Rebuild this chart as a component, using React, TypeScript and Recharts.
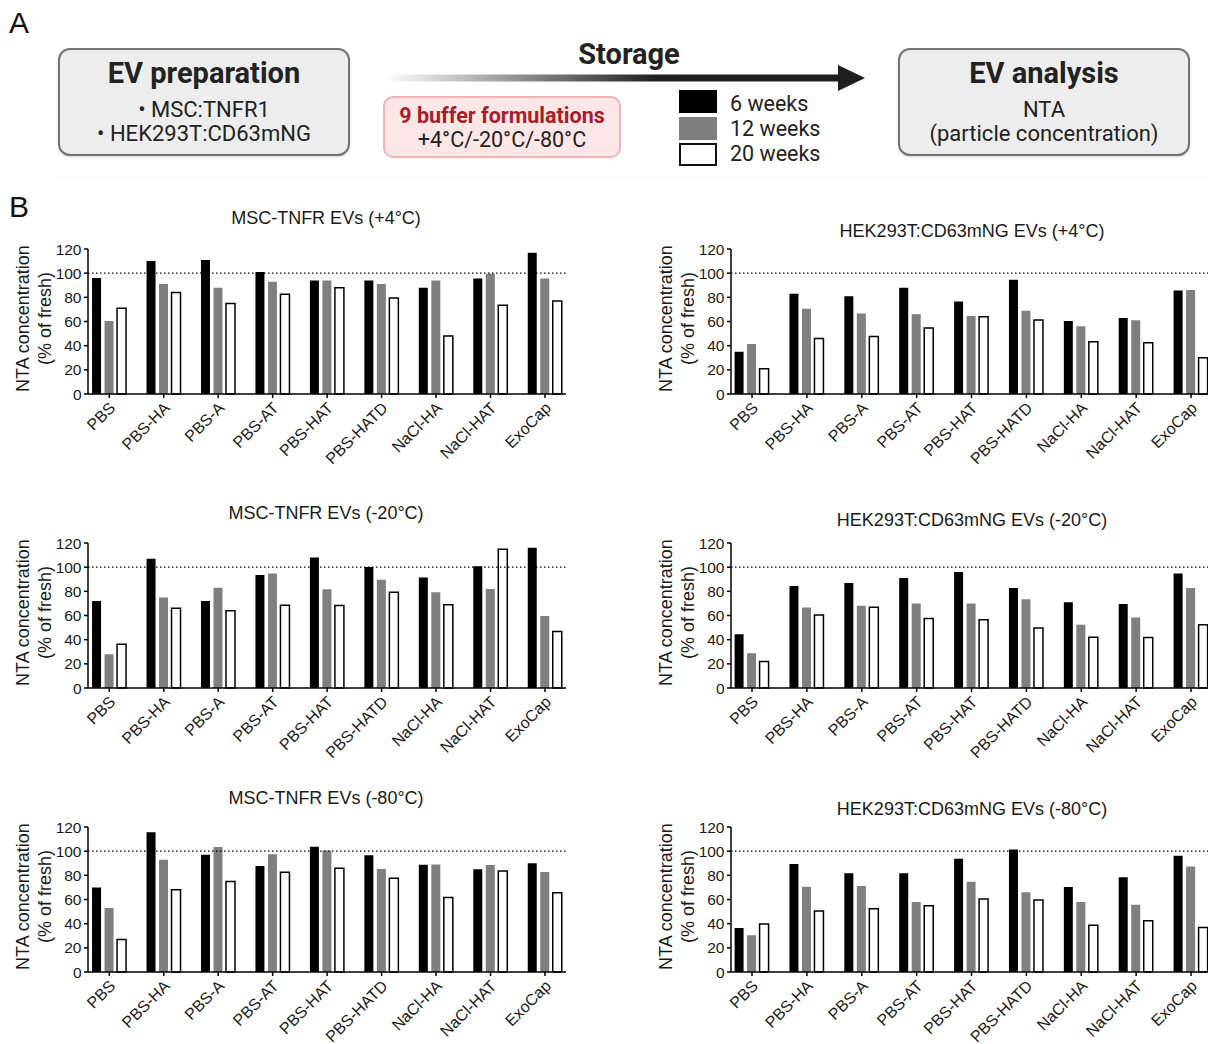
import React from 'react';
import { BarChart, Bar, XAxis, YAxis, ReferenceLine } from 'recharts';

const categories = ['PBS', 'PBS-HA', 'PBS-A', 'PBS-AT', 'PBS-HAT', 'PBS-HATD', 'NaCl-HA', 'NaCl-HAT', 'ExoCap'];
const yTicks = [0, 20, 40, 60, 80, 100, 120];
const xTickIdx = [0, 1, 2, 3, 4, 5, 6, 7, 8];
const weekLabels = ['6 weeks', '12 weeks', '20 weeks'];
const weekColors = ['#000000', '#7f7f7f', '#ffffff'];

// MSC-TNFR EVs (+4°C)
const mscP4W6 = [96, 110, 111, 101, 94, 94, 88, 95.5, 117];
const mscP4W12 = [60.5, 91, 88, 93, 94, 91, 94, 99.5, 95.5];
const mscP4W20 = [71, 84, 75, 82.5, 88, 79.5, 48, 73.5, 77];
// HEK293T:CD63mNG EVs (+4°C)
const hekP4W6 = [35, 83, 81, 88, 76.5, 94.6, 60.4, 63, 85.6];
const hekP4W12 = [41.3, 70.5, 66.7, 66, 64.5, 69, 56, 61, 86.1];
const hekP4W20 = [21, 46, 47.6, 54.7, 64, 61.2, 43.2, 42.4, 30];
// MSC-TNFR EVs (-20°C)
const mscM20W6 = [72, 107, 72, 93.6, 108, 100.2, 91.4, 100.7, 116];
const mscM20W12 = [28, 75, 83, 94.7, 81.7, 89.5, 79.3, 82, 59.5];
const mscM20W20 = [36.3, 66, 64, 68.5, 68.3, 79.3, 68.8, 114.8, 46.8];
// HEK293T:CD63mNG EVs (-20°C)
const hekM20W6 = [44.4, 84.4, 87, 91, 96, 82.7, 71, 69.6, 94.8];
const hekM20W12 = [28.8, 66.6, 68, 70, 69.9, 73.4, 52.3, 58.4, 82.7];
const hekM20W20 = [22, 60.5, 66.8, 57.5, 56.4, 49.6, 42, 41.8, 52.3];
// MSC-TNFR EVs (-80°C)
const mscM80W6 = [70, 115.6, 97, 87.7, 103.6, 96.7, 88.8, 85, 90];
const mscM80W12 = [53, 93, 103.5, 97.5, 100.5, 85.2, 89, 88.5, 82.7];
const mscM80W20 = [27, 68, 74.8, 82.5, 85.8, 77.5, 61.6, 83.6, 65.5];
// HEK293T:CD63mNG EVs (-80°C)
const hekM80W6 = [36.5, 89.4, 81.8, 81.8, 93.8, 101.4, 70.4, 78.5, 96.3];
const hekM80W12 = [30.5, 70.6, 71.2, 58, 74.7, 66, 58, 55.6, 87.3];
const hekM80W20 = [39.8, 50.4, 52.4, 54.8, 60.5, 59.5, 38.7, 42.5, 36.8];

const CHART_FONT = '"Liberation Sans", Arial, Helvetica, sans-serif';
const A_FONT = 'Roboto, "Open Sans", "Noto Sans", sans-serif';

function buildData(w6: number[], w12: number[], w20: number[]) {
  return categories.map((name, i) => ({ idx: i, name, w6: w6[i], w12: w12[i], w20: w20[i] }));
}

const XTick = (props: any) => {
  const { x, y, payload } = props;
  const label = categories[Math.round(payload.value)] ?? '';
  return (
    <g transform={`translate(${x + 3},${y + 5})`}>
      <text x={0} y={0} dy="0.35em" textAnchor="end" transform="rotate(-45)" fontSize={16} fill="#1a1a1a" fontFamily={CHART_FONT}>
        {label}
      </text>
    </g>
  );
};

const renderYLabel = (props: any) => {
  const vb = props && props.viewBox ? props.viewBox : { x: 0, y: 20, width: 88, height: 145 };
  const cy = vb.y + vb.height / 2 - 3;
  return (
    <g>
      <text x={0} y={0} transform={`translate(${vb.x + 23},${cy}) rotate(-90)`} textAnchor="middle" dominantBaseline="central" fontSize={18} fill="#1a1a1a" fontFamily={CHART_FONT}>
        NTA concentration
      </text>
      <text x={0} y={0} transform={`translate(${vb.x + 44.5},${cy}) rotate(-90)`} textAnchor="middle" dominantBaseline="central" fontSize={18} fill="#1a1a1a" fontFamily={CHART_FONT}>
        (% of fresh)
      </text>
    </g>
  );
};

type PanelProps = {
  data: any[];
  title: string;
  left: number;
  plotTop: number;
  plotWidth: number;
  domain: [number, number];
  titleX: number;
  titleY: number;
};

function Panel({ data, title, left, plotTop, plotWidth, domain, titleX, titleY }: PanelProps) {
  const yAxisW = 88;
  const marginTop = 20;
  const plotH = 145;
  const xAxisH = 80;
  const width = yAxisW + plotWidth + 10;
  const height = marginTop + plotH + xAxisH;
  return (
    <>
      <div
        style={{
          position: 'absolute',
          left: titleX - 250,
          width: 500,
          top: titleY - 11,
          textAlign: 'center',
          fontSize: 18,
          lineHeight: '22px',
          fontFamily: CHART_FONT,
          color: '#1a1a1a',
        }}
      >
        {title}
      </div>
      <div style={{ position: 'absolute', left, top: plotTop - marginTop }}>
        <BarChart width={width} height={height} data={data} margin={{ top: marginTop, right: 10, bottom: 0, left: 0 }} barGap={3.5}>
          <XAxis
            type="number"
            dataKey="idx"
            domain={domain}
            ticks={xTickIdx}
            interval={0}
            tickSize={4}
            tickMargin={2}
            height={xAxisH}
            tick={<XTick />}
            axisLine={{ stroke: '#000', strokeWidth: 1.5 }}
            tickLine={{ stroke: '#000', strokeWidth: 1.5 }}
            allowDataOverflow
          />
          <YAxis
            type="number"
            domain={[0, 120]}
            ticks={yTicks}
            interval={0}
            width={yAxisW}
            tickSize={4}
            tickMargin={2.5}
            tick={{ fontSize: 15.5, fill: '#1a1a1a', fontFamily: CHART_FONT }}
            axisLine={{ stroke: '#000', strokeWidth: 1.5 }}
            tickLine={{ stroke: '#000', strokeWidth: 1.5 }}
            label={renderYLabel}
          />
          <ReferenceLine y={100} stroke="#000" strokeWidth={1.3} strokeDasharray="1.5 2.5" />
          <Bar dataKey="w6" name={weekLabels[0]} fill={weekColors[0]} barSize={9} isAnimationActive={false} />
          <Bar dataKey="w12" name={weekLabels[1]} fill={weekColors[1]} barSize={9} isAnimationActive={false} />
          <Bar dataKey="w20" name={weekLabels[2]} fill={weekColors[2]} stroke="#000" strokeWidth={1.5} barSize={9} isAnimationActive={false} />
        </BarChart>
      </div>
    </>
  );
}

const boxStyle: React.CSSProperties = {
  position: 'absolute',
  top: 48,
  width: 292,
  height: 108,
  boxSizing: 'border-box',
  border: '2.5px solid #737373',
  borderRadius: 12,
  background: '#ededed',
  boxShadow: '0 1px 3px rgba(0,0,0,0.15)',
};

function AText({ x, y, w, size, bold, color, children }: any) {
  return (
    <div
      style={{
        position: 'absolute',
        left: x - w / 2,
        width: w,
        top: y - size * 0.65,
        height: size * 1.3,
        lineHeight: `${size * 1.3}px`,
        textAlign: 'center',
        fontSize: size,
        fontWeight: bold ? 700 : 400,
        color: color || '#222',
        fontFamily: A_FONT,
        whiteSpace: 'nowrap',
      }}
    >
      {children}
    </div>
  );
}

export default function App() {
  const mscDomain: [number, number] = [-0.391, 8.386];
  const hekDomain: [number, number] = [-0.383, 8.382];
  const mscLeft = 0;
  const hekLeft = 642.7;
  return (
    <div style={{ position: 'absolute', left: 0, top: 0, width: 1208, height: 1044, overflow: 'hidden', background: '#fff' }}>
      {/* Panel letters */}
      <div style={{ position: 'absolute', left: 9, top: 6, fontSize: 30, fontFamily: CHART_FONT, color: '#111', lineHeight: '34px' }}>A</div>
      <div style={{ position: 'absolute', left: 9, top: 190, fontSize: 30, fontFamily: CHART_FONT, color: '#111', lineHeight: '34px' }}>B</div>

      {/* Panel A schematic */}
      <div style={{ ...boxStyle, left: 58 }} />
      <AText x={204} y={74} w={290} size={29} bold>EV preparation</AText>
      <AText x={204} y={110} w={290} size={22}>• MSC:TNFR1</AText>
      <AText x={204} y={134} w={290} size={22}>• HEK293T:CD63mNG</AText>

      <div style={{ ...boxStyle, left: 898 }} />
      <AText x={1044} y={74} w={290} size={29} bold>EV analysis</AText>
      <AText x={1044} y={110} w={290} size={22}>NTA</AText>
      <AText x={1044} y={134} w={290} size={22}>(particle concentration)</AText>

      <AText x={629} y={55} w={200} size={29} bold>Storage</AText>
      <svg style={{ position: 'absolute', left: 380, top: 60 }} width={500} height={40}>
        <defs>
          <linearGradient id="arrowGrad" x1="0" y1="0" x2="1" y2="0">
            <stop offset="0" stopColor="#ffffff" />
            <stop offset="0.6" stopColor="#1e1e1e" />
            <stop offset="1" stopColor="#1e1e1e" />
          </linearGradient>
        </defs>
        <rect x={5} y={14.5} width={455} height={7} fill="url(#arrowGrad)" />
        <polygon points="458,5 485,18 458,31" fill="#1e1e1e" />
      </svg>

      <div
        style={{
          position: 'absolute',
          left: 383,
          top: 96,
          width: 238,
          height: 62,
          boxSizing: 'border-box',
          border: '2px solid #f2b3b3',
          borderRadius: 10,
          background: '#fce6e6',
        }}
      />
      <AText x={502} y={116} w={236} size={21.5} bold color="#a3202a">9 buffer formulations</AText>
      <AText x={502} y={140} w={236} size={21.5}>+4°C/-20°C/-80°C</AText>

      {weekLabels.map((lab, i) => (
        <React.Fragment key={lab}>
          <div
            style={{
              position: 'absolute',
              left: 679,
              top: 90 + i * 26.5,
              width: 38,
              height: 23,
              boxSizing: 'border-box',
              background: weekColors[i],
              border: i === 2 ? '2px solid #111' : 'none',
            }}
          />
          <div
            style={{
              position: 'absolute',
              left: 730,
              top: 104 + i * 25 - 13,
              height: 26,
              lineHeight: '26px',
              fontSize: 21.5,
              fontFamily: A_FONT,
              color: '#222',
              whiteSpace: 'nowrap',
            }}
          >
            {lab}
          </div>
        </React.Fragment>
      ))}
      <div style={{ position: 'absolute', left: 55, top: 177, width: 1153, height: 1, background: '#f2f2f2' }} />

      {/* Panel B charts */}
      <Panel data={buildData(mscP4W6, mscP4W12, mscP4W20)} title="MSC-TNFR EVs (+4°C)" left={mscLeft} plotTop={249} plotWidth={478} domain={mscDomain} titleX={326} titleY={218} />
      <Panel data={buildData(hekP4W6, hekP4W12, hekP4W20)} title="HEK293T:CD63mNG EVs (+4°C)" left={hekLeft} plotTop={249} plotWidth={481} domain={hekDomain} titleX={972} titleY={231} />
      <Panel data={buildData(mscM20W6, mscM20W12, mscM20W20)} title="MSC-TNFR EVs (-20°C)" left={mscLeft} plotTop={543} plotWidth={478} domain={mscDomain} titleX={326} titleY={513} />
      <Panel data={buildData(hekM20W6, hekM20W12, hekM20W20)} title="HEK293T:CD63mNG EVs (-20°C)" left={hekLeft} plotTop={543} plotWidth={481} domain={hekDomain} titleX={972} titleY={520} />
      <Panel data={buildData(mscM80W6, mscM80W12, mscM80W20)} title="MSC-TNFR EVs (-80°C)" left={mscLeft} plotTop={827} plotWidth={478} domain={mscDomain} titleX={326} titleY={798} />
      <Panel data={buildData(hekM80W6, hekM80W12, hekM80W20)} title="HEK293T:CD63mNG EVs (-80°C)" left={hekLeft} plotTop={827} plotWidth={481} domain={hekDomain} titleX={972} titleY={809} />
    </div>
  );
}
